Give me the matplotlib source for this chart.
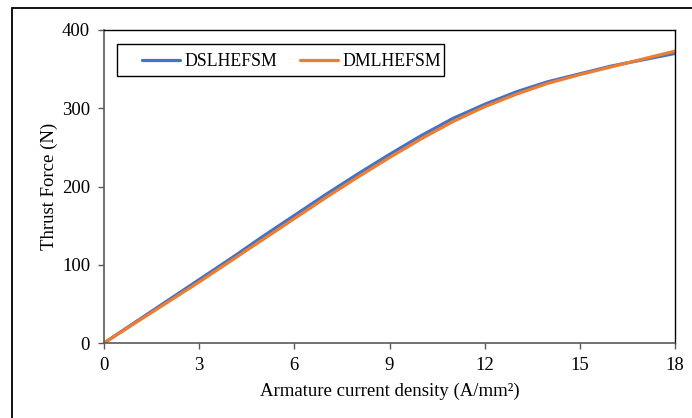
import matplotlib
matplotlib.use("Agg")
import matplotlib.pyplot as plt
from matplotlib.patches import Rectangle

current_density = [0, 1, 2, 3, 4, 5, 6, 7, 8, 9, 10, 11, 12, 13, 14, 15, 16, 17, 18]
dslhefsm = [0, 27, 54, 81, 108, 136, 163, 190, 216, 241, 265, 287, 305, 321, 334, 344, 354, 362, 370]
dmlhefsm = [0, 26, 52, 78, 105, 132, 159, 186, 212, 237, 261, 283, 302, 318, 332, 343, 353, 363, 373]
x_ticks = [0, 3, 6, 9, 12, 15, 18]
y_ticks = [0, 100, 200, 300, 400]

plt.rcParams['font.family'] = ['Liberation Serif', 'DejaVu Serif']
fs = 13.5
W, H = 692, 418

fig = plt.figure(figsize=(6.92, 4.18), dpi=100)
ax = fig.add_axes([104/W, 1-343/H, (675-104)/W, (343-30)/H])

ax.plot(current_density, dslhefsm, color='#4472C4', lw=2.3, label='DSLHEFSM',
        solid_capstyle='round', solid_joinstyle='round')
ax.plot(current_density, dmlhefsm, color='#ED7D31', lw=2.3, label='DMLHEFSM',
        solid_capstyle='round', solid_joinstyle='round')

ax.set_xlim(0, 18)
ax.set_ylim(0, 400)
ax.set_xticks(x_ticks)
ax.set_yticks(y_ticks)
ax.tick_params(axis='both', direction='out', length=4, width=1, color='#595959',
               labelsize=fs, pad=6, labelcolor='black')
for s in ['left', 'bottom']:
    ax.spines[s].set_color('#595959')
    ax.spines[s].set_linewidth(1.2)
for s in ['top', 'right']:
    ax.spines[s].set_color('black')
    ax.spines[s].set_linewidth(1.0)

ax.set_xlabel('Armature current density (A/mm²)', fontsize=fs, labelpad=6)
ax.set_ylabel('Thrust Force (N)', fontsize=fs, labelpad=3)

# legend frame drawn separately (asymmetric padding as in reference)
ax.add_patch(Rectangle((117/W, 1-76/H), (444-117)/W, (76-44)/H, transform=fig.transFigure,
                       fill=True, facecolor='white', edgecolor='black', linewidth=1.0,
                       zorder=4, clip_on=False))
leg = ax.legend(loc='upper left', bbox_to_anchor=(142/W, 1-53/H),
                bbox_transform=fig.transFigure, ncol=2,
                frameon=False, fontsize=12.8,
                handlelength=2.15, handletextpad=0.23, columnspacing=1.3,
                borderpad=0, borderaxespad=0)
leg.set_zorder(5)

fig.patches.append(Rectangle((12/W, -0.05), 1.2, 1-8/H+0.05, transform=fig.transFigure,
                             fill=False, edgecolor='black', linewidth=1.3))

fig.savefig('out.png', dpi=100)
